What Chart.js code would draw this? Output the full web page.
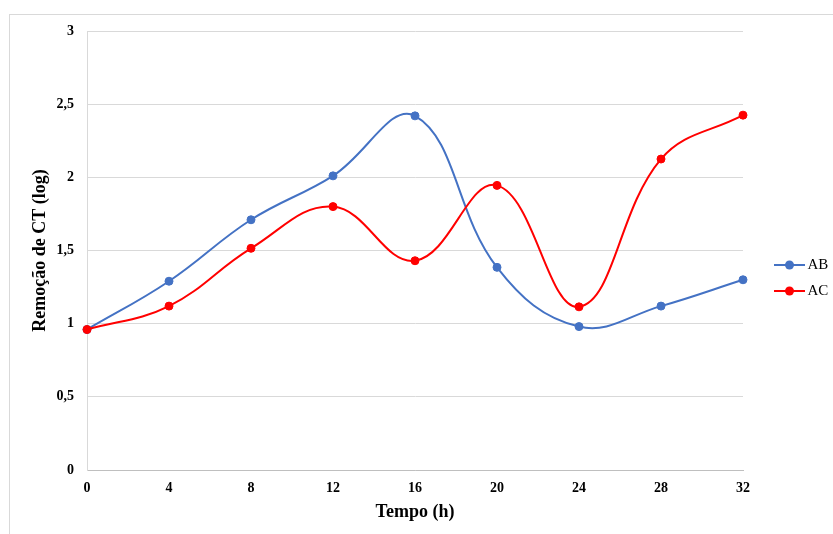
<!DOCTYPE html>
<html>
<head>
<meta charset="utf-8">
<script src="https://cdn.jsdelivr.net/npm/chart.js@4/dist/chart.umd.min.js"></script>
<style>
  html, body { margin: 0; padding: 0; background: #fff; overflow: hidden; }
  #frame { position: absolute; left: 9px; top: 14px; width: 900px; height: 600px; border: 1px solid #d9d9d9; box-sizing: border-box; }
  #wrap { position: absolute; left: 0; top: 0; width: 833px; height: 534px; }
</style>
</head>
<body>
<div id="frame"></div>
<div id="wrap"><canvas id="c" width="833" height="534"></canvas></div>
<script>
const categories = ['0', '4', '8', '12', '16', '20', '24', '28', '32'];
const seriesNames = ['AB', 'AC'];
const abValues = [0.96, 1.29, 1.71, 2.01, 2.42, 1.385, 0.98, 1.12, 1.30];
const acValues = [0.96, 1.12, 1.515, 1.80, 1.43, 1.945, 1.115, 2.125, 2.425];
const seriesColors = ['#4472C4', '#FF0000'];
const xTitle = 'Tempo (h)';
const yTitle = 'Remoção de CT (log)';

const serif = '"Liberation Serif", "Times New Roman", serif';

function legendIcon(color) {
  const cv = document.createElement('canvas');
  cv.width = 56; cv.height = 12;
  const g = cv.getContext('2d');
  g.strokeStyle = color; g.lineWidth = 2;
  g.beginPath(); g.moveTo(25, 6); g.lineTo(56, 6); g.stroke();
  g.fillStyle = color;
  g.beginPath(); g.arc(40.5, 6, 4.5, 0, Math.PI * 2); g.fill();
  return cv;
}
const icons = seriesColors.map(legendIcon);

new Chart(document.getElementById('c'), {
  type: 'line',
  data: {
    labels: categories,
    datasets: [
      { label: seriesNames[0], data: abValues, borderColor: seriesColors[0], backgroundColor: seriesColors[0],
        borderWidth: 2, pointRadius: 4, pointBorderWidth: 1, pointHoverRadius: 4, tension: 0.4, order: 1 },
      { label: seriesNames[1], data: acValues, borderColor: seriesColors[1], backgroundColor: seriesColors[1],
        borderWidth: 2, pointRadius: 4, pointBorderWidth: 1, pointHoverRadius: 4, tension: 0.4, order: 0 }
    ]
  },
  options: {
    responsive: false,
    animation: false,
    layout: { padding: { top: 31, bottom: 9, left: 20, right: 0 } },
    plugins: {
      tooltip: { enabled: false },
      legend: {
        position: 'right',
        align: 'center',
        maxWidth: 90,
        labels: {
          usePointStyle: true,
          pointStyleWidth: 46,
          padding: 11,
          color: '#000',
          font: { family: serif, size: 15 },
          sort: (a, b) => a.datasetIndex - b.datasetIndex,
          generateLabels: (chart) => {
            const items = Chart.defaults.plugins.legend.labels.generateLabels(chart);
            items.forEach(it => { it.pointStyle = icons[it.datasetIndex]; });
            return items;
          }
        }
      }
    },
    scales: {
      x: {
        offset: false,
        grid: { display: false, drawTicks: false },
        border: { display: true, color: '#bfbfbf', width: 1 },
        ticks: { color: '#000', padding: 10, font: { family: serif, size: 14, weight: 'bold' }, maxRotation: 0 },
        title: { display: true, text: xTitle, color: '#000', padding: { top: 0, bottom: 2 }, font: { family: serif, size: 18, weight: 'bold' } },
        afterFit: (s) => { s.height = 55; }
      },
      y: {
        min: 0, max: 3,
        grid: { color: '#d9d9d9', lineWidth: 1, drawTicks: false },
        border: { display: true, color: '#d9d9d9', width: 1 },
        ticks: { stepSize: 0.5, color: '#000', padding: 13, font: { family: serif, size: 14, weight: 'bold' },
          callback: (v) => String(v).replace('.', ',') },
        title: { display: true, text: yTitle, color: '#000', padding: { top: 10, bottom: 0 }, font: { family: serif, size: 18, weight: 'bold' } },
        afterFit: (s) => { s.width = 67; }
      }
    }
  }
});
</script>
</body>
</html>
